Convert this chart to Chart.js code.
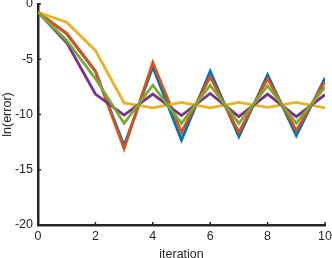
<!DOCTYPE html>
<html>
<head>
<meta charset="utf-8">
<script src="https://cdn.jsdelivr.net/npm/chart.js@4/dist/chart.umd.min.js"></script>
<style>
  html, body { margin: 0; padding: 0; background: #fff; }
  #wrap { width: 332px; height: 258px; }
</style>
</head>
<body>
<div id="wrap"><canvas id="myChart"></canvas></div>
<script>
const iterations = [0, 1, 2, 3, 4, 5, 6, 7, 8, 9, 10];
const blueSeries   = [-0.75, -2.7, -6.1, -12.8, -5.7, -12.3, -6.1, -12.0, -6.4, -11.9, -6.7];
const orangeSeries = [-0.75, -2.65, -6.05, -13.1, -5.3, -11.6, -6.6, -11.6, -6.75, -11.45, -7.0];
const yellowSeries = [-0.75, -1.65, -4.2, -8.95, -9.4, -8.9, -9.4, -8.9, -9.35, -8.9, -9.4];
const purpleSeries = [-0.75, -3.5, -8.15, -10.05, -8.15, -10.1, -8.1, -10.2, -8.15, -10.2, -8.2];
const greenSeries  = [-0.75, -3.3, -6.75, -10.8, -7.35, -10.8, -7.35, -10.8, -7.4, -10.8, -7.5];
const xTicks = [0, 2, 4, 6, 8, 10];
const yTicks = [-20, -15, -10, -5, 0];

const axisColor = '#262626';
const fontFamily = '"Liberation Sans", Arial, Helvetica, sans-serif';

function toPoints(values) {
    return values.map((v, i) => ({ x: iterations[i], y: v }));
}

function makeSet(values, color) {
    return {
        data: toPoints(values),
        borderColor: color,
        backgroundColor: color,
        borderWidth: 2.8,
        pointRadius: 0,
        tension: 0,
        fill: false
    };
}

// small inward tick marks, MATLAB style
const innerTicks = {
    id: 'innerTicks',
    afterDraw(chart) {
        const ctx = chart.ctx;
        const xs = chart.scales.x;
        const ys = chart.scales.y;
        ctx.save();
        ctx.strokeStyle = axisColor;
        ctx.lineWidth = 1.5;
        xTicks.forEach(v => {
            const px = xs.getPixelForValue(v);
            ctx.beginPath();
            ctx.moveTo(px, ys.bottom);
            ctx.lineTo(px, ys.bottom - 3);
            ctx.stroke();
        });
        yTicks.forEach(v => {
            const py = ys.getPixelForValue(v);
            ctx.beginPath();
            ctx.moveTo(xs.left, py);
            ctx.lineTo(xs.left + 3, py);
            ctx.stroke();
        });
        ctx.restore();
    }
};

const ctx = document.getElementById('myChart').getContext('2d');
new Chart(ctx, {
    type: 'line',
    data: {
        // first dataset is drawn on top
        datasets: [
            makeSet(greenSeries, '#77AC30'),
            makeSet(purpleSeries, '#7E2F8E'),
            makeSet(yellowSeries, '#EDB120'),
            makeSet(orangeSeries, '#D95319'),
            makeSet(blueSeries, '#0072BD')
        ]
    },
    options: {
        responsive: true,
        maintainAspectRatio: false,
        animation: false,
        layout: { padding: { top: 4, right: 7, left: 0, bottom: 0 } },
        plugins: { legend: { display: false }, tooltip: { enabled: false } },
        scales: {
            x: {
                type: 'linear',
                min: 0,
                max: 10,
                afterBuildTicks: scale => { scale.ticks = xTicks.map(v => ({ value: v })); },
                afterFit: scale => {
                    scale.height = 33;
                    scale.paddingLeft = 0;
                    scale.paddingRight = 0;
                },
                grid: { drawOnChartArea: false, drawTicks: false },
                border: { display: true, color: axisColor, width: 2.5 },
                ticks: { color: axisColor, padding: 4, maxRotation: 0, font: { family: fontFamily, size: 12.5 } },
                title: { display: true, text: 'iteration', color: axisColor, padding: { top: 0, bottom: -4 }, font: { family: fontFamily, size: 12.5 } }
            },
            y: {
                type: 'linear',
                min: -20,
                max: 0,
                afterBuildTicks: scale => { scale.ticks = yTicks.map(v => ({ value: v })); },
                afterFit: scale => {
                    scale.width = 38;
                    scale.paddingTop = 0;
                    scale.paddingBottom = 0;
                },
                grid: { drawOnChartArea: false, drawTicks: false },
                border: { display: true, color: axisColor, width: 2.5 },
                ticks: { color: axisColor, padding: 5, font: { family: fontFamily, size: 12.5 } },
                title: { display: true, text: 'ln(error)', color: axisColor, padding: 0, font: { family: fontFamily, size: 12.5 } }
            }
        }
    },
    plugins: [innerTicks]
});
</script>
</body>
</html>
